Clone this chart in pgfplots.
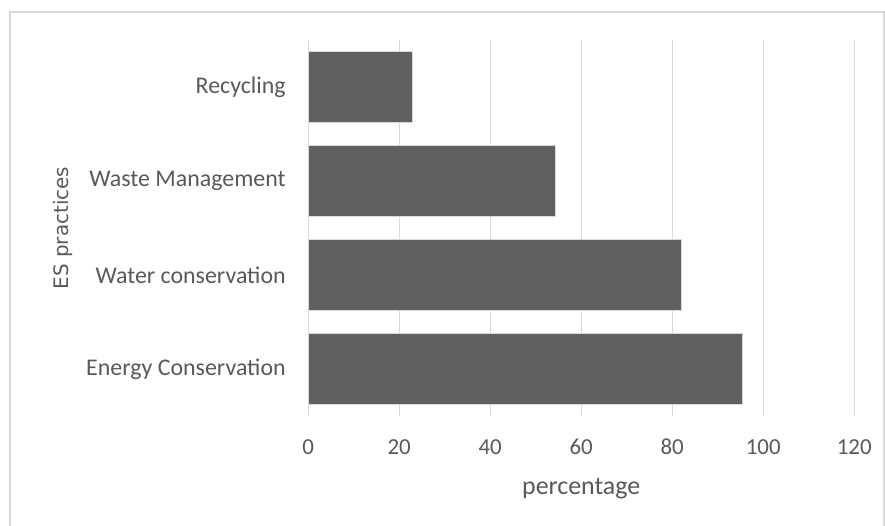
\documentclass[border=0pt]{standalone}
\usepackage{pgfplots}
\pgfplotsset{compat=1.18}
\usepackage{fontspec}
\setmainfont{Carlito}
\newfontfamily\dejavu{DejaVu Sans}
\definecolor{txtc}{HTML}{595959}
\definecolor{gridc}{HTML}{D9D9D9}
\definecolor{barc}{HTML}{606060}
\begin{document}
\begin{tikzpicture}[x=1bp,y=1bp]
\useasboundingbox (0,0) rectangle (885,526);
\fill[white] (0,0) rectangle (885,526);
\draw[gridc, line width=1.5bp] (10,-10) rectangle (884,514);
\begin{axis}[
  at={(308.2bp,110bp)}, anchor=south west,
  scale only axis, width=546bp, height=376bp,
  xmin=0, xmax=120, ymin=-0.5, ymax=3.5,
  xtick={0,20,...,120},
  ytick={0,1,2,3},
  yticklabels={Energy Conservation,Water conservation,Waste Management,Recycling},
  xmajorgrids, ymajorgrids=false,
  major grid style={draw=gridc, line width=1bp},
  axis line style={draw=none},
  major tick length=0pt,
  /pgf/number format/assume math mode=true,
  xticklabel style={font=\fontsize{23}{26}\selectfont, text=txtc, anchor=base, yshift=-39bp},
  yticklabel style={font=\fontsize{24}{27}\selectfont, text=txtc, anchor=east, xshift=-19bp},
  xlabel={percentage},
  xlabel style={font=\fontsize{26}{30}\selectfont, text=txtc, at={(0.5,-73bp)}, anchor=center},
  ylabel={\dejavu ES practices},
  ylabel style={font=\fontsize{20}{24}\selectfont, text=txtc, at={(-245bp,0.5)}, anchor=center},
  xbar, bar width=71bp,
]
\addplot[fill=barc, draw=white!85!black, line width=0.6bp] coordinates {(95.5,0) (82,1) (54.4,2) (22.8,3)};
\end{axis}
\end{tikzpicture}
\end{document}
